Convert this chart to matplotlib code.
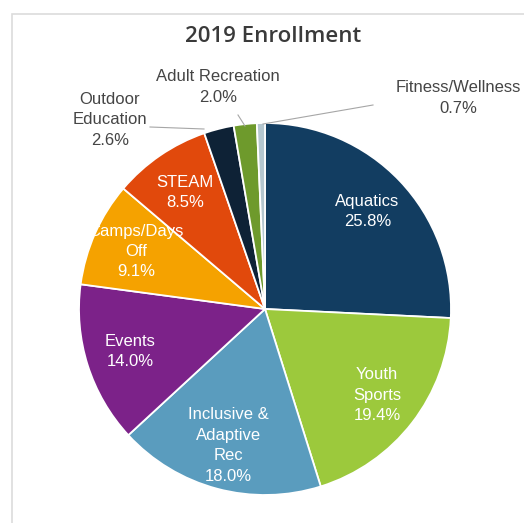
import numpy as np
import matplotlib.pyplot as plt
from matplotlib.patches import Rectangle

plt.rcParams['font.family'] = ['Liberation Sans', 'DejaVu Sans']

# enrollment share by program area, 2019
programs = ['Aquatics', 'Youth\nSports', 'Inclusive &\nAdaptive\nRec', 'Events',
            'Camps/Days\nOff', 'STEAM', 'Outdoor\nEducation', 'Adult Recreation',
            'Fitness/Wellness']
shares = [25.8, 19.4, 18.0, 14.0, 9.1, 8.5, 2.6, 2.0, 0.7]
colors = ['#123d61', '#9cc93c', '#5a9cbe', '#7c2289', '#f5a200', '#e1490c',
          '#0e2236', '#6e9a2c', '#b5c7cf']
inside = [True, True, True, True, True, True, False, False, False]

W, H = 524, 523
fig = plt.figure(figsize=(W / 100, H / 100), dpi=100)
ax = fig.add_axes([0, 0, 1, 1])

# light chart frame
ax.add_patch(Rectangle((12, -10), W, H - 14 + 10, fill=False,
                       edgecolor='#dcdcdc', linewidth=1.2))

cx, cy, r = 265, 214, 186
wedges, _ = ax.pie(shares, colors=colors, startangle=90, counterclock=False,
                   center=(cx, cy), radius=r,
                   wedgeprops=dict(edgecolor='white', linewidth=1.3))
ax.set_xlim(0, W)
ax.set_ylim(0, H)
ax.set_aspect('equal')
ax.axis('off')

ax.text(273, H - 36, '2019 Enrollment', ha='center', va='center',
        fontsize=16, color='#3a3a3a', family=['Open Sans', 'DejaVu Sans'],
        weight='semibold')

# labels inside the larger slices
for w, name, s, ins in zip(wedges, programs, shares, inside):
    if not ins:
        continue
    ang = np.deg2rad((w.theta1 + w.theta2) / 2)
    d = 0.76 * r
    ax.text(cx + d * np.cos(ang), cy + d * np.sin(ang), f'{name}\n{s:.1f}%',
            ha='center', va='center', fontsize=12, color='white',
            linespacing=1.45)

# callouts for the thin slices: text centre, line start, line end
callouts = {
    6: ((110, H - 120), (150, H - 127), (204, H - 129)),
    7: ((218, H - 87), (238, H - 115), (245, H - 126)),
    8: ((458, H - 98), (373, H - 105), (263, H - 124)),
}
for i, (txt_xy, p0, p1) in callouts.items():
    ax.plot([p0[0], p1[0]], [p0[1], p1[1]], color='#a6a6a6', linewidth=0.8)
    ax.text(txt_xy[0], txt_xy[1], f'{programs[i]}\n{shares[i]:.1f}%',
            ha='center', va='center', fontsize=12, color='#454545',
            linespacing=1.45, clip_on=False)

fig.savefig('out.png', dpi=100)
